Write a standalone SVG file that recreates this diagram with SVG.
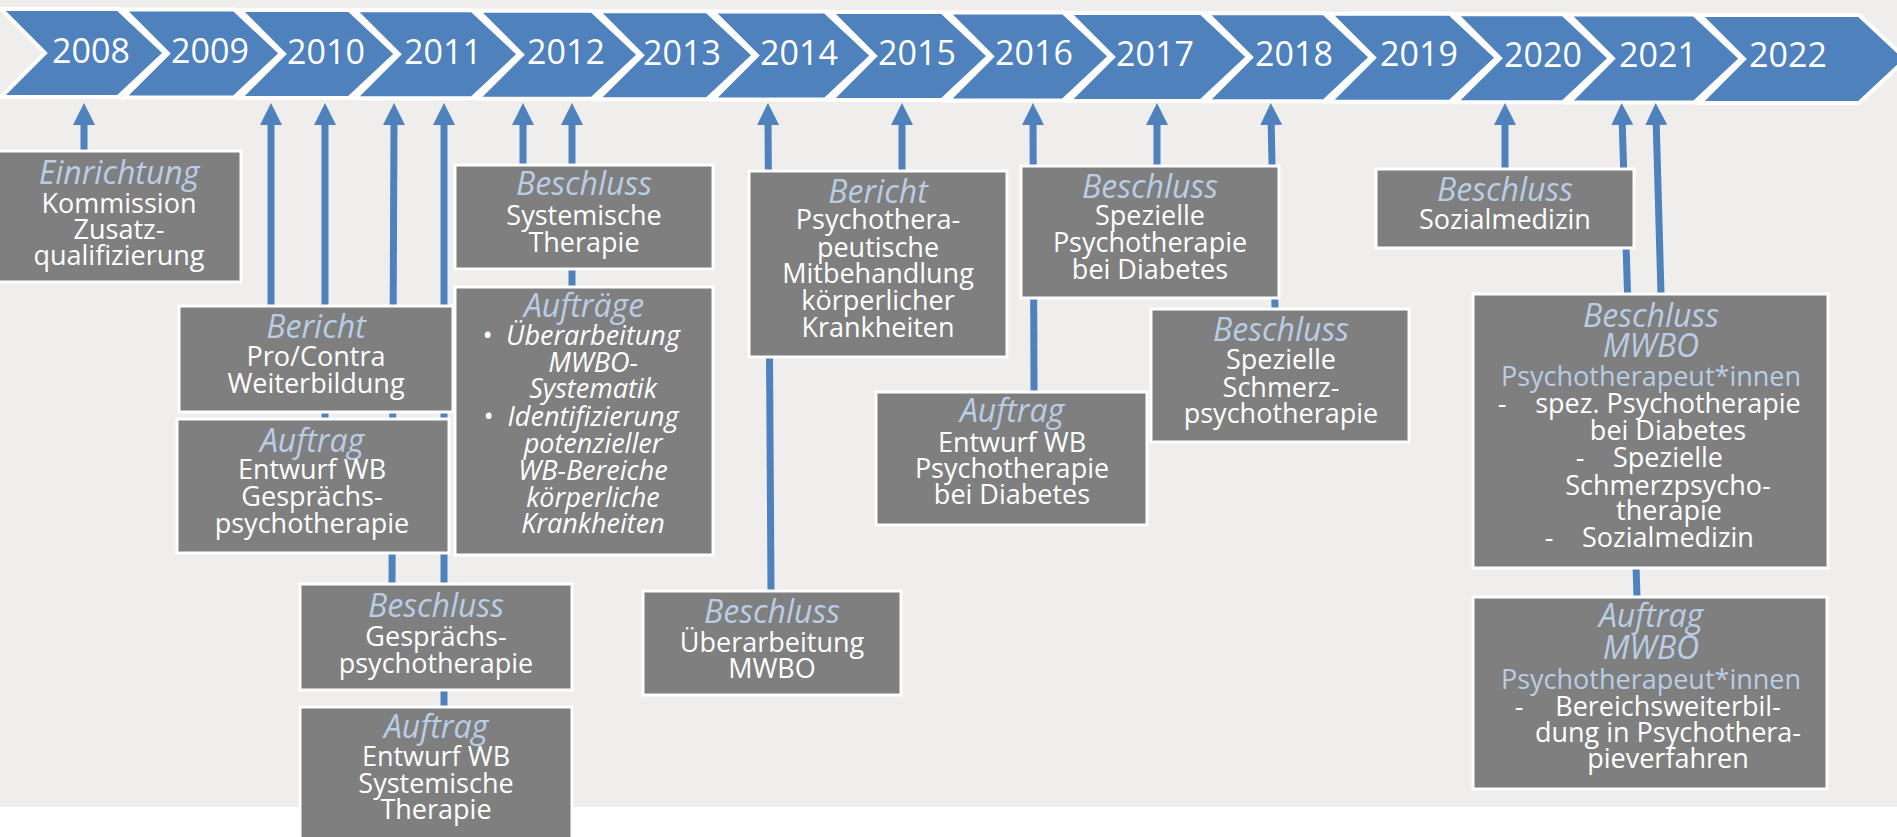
<svg xmlns="http://www.w3.org/2000/svg" width="1897" height="837" viewBox="0 0 1897 837">
<style>
text{font-family:'Open Sans','Noto Sans','DejaVu Sans',sans-serif;text-anchor:middle}
.yr{font-size:34px;fill:#fff}
.h{font-size:32px;font-style:italic;fill:#B9CDE5}
.b{font-size:27px;fill:#fff}
.bi{font-size:27px;font-style:italic;fill:#fff}
.p{font-size:27px;fill:#B9CDE5}
.box{fill:#7F7F7F;stroke:#fff;stroke-width:3}
.chev{fill:#4F81BD;stroke:#fff;stroke-width:4;stroke-linejoin:miter}
.con{stroke:#4F81BD;stroke-width:7;fill:none;marker-end:url(#ah)}
</style>
<defs>
<marker id="ah" markerUnits="userSpaceOnUse" markerWidth="22" markerHeight="22" viewBox="0 0 22 22" refX="9" refY="11" orient="auto">
<path d="M0,0 L22,11 L0,22 Z" fill="#4F81BD"/>
</marker>
</defs>
<rect x="0" y="0" width="1897" height="837" fill="#fff"/>
<rect x="0" y="0" width="1897" height="807" fill="#EFEEEC"/>

<g id="timeline">
<polygon class="chev" points="1,9 118,9 165,53 118,97 1,97 45,53"/>
<polygon class="chev" points="124,9.4 234,9.4 281,53.4 234,97.4 124,97.4 168,53.4"/>
<polygon class="chev" points="240,9.9 349,9.9 396,53.9 349,97.9 240,97.9 284,53.9"/>
<polygon class="chev" points="355,10.3 472,10.3 519,54.3 472,98.3 355,98.3 399,54.3"/>
<polygon class="chev" points="478,10.7 592,10.7 639,54.7 592,98.7 478,98.7 522,54.7"/>
<polygon class="chev" points="598,11.2 707,11.2 754,55.2 707,99.2 598,99.2 642,55.2"/>
<polygon class="chev" points="713,11.6 825,11.6 872,55.6 825,99.6 713,99.6 757,55.6"/>
<polygon class="chev" points="831,12 942,12 989,56 942,100 831,100 875,56"/>
<polygon class="chev" points="948,12.4 1063,12.4 1110,56.4 1063,100.4 948,100.4 992,56.4"/>
<polygon class="chev" points="1069,12.9 1201,12.9 1248,56.9 1201,100.9 1069,100.9 1113,56.9"/>
<polygon class="chev" points="1207,13.3 1324,13.3 1371,57.3 1324,101.3 1207,101.3 1251,57.3"/>
<polygon class="chev" points="1330,13.7 1450,13.7 1497,57.7 1450,101.7 1330,101.7 1374,57.7"/>
<polygon class="chev" points="1456,14.2 1563,14.2 1610,58.2 1563,102.2 1456,102.2 1500,58.2"/>
<polygon class="chev" points="1569,14.6 1694,14.6 1741,58.6 1694,102.6 1569,102.6 1613,58.6"/>
<polygon class="chev" points="1700,15 1859,15 1906,59 1859,103 1700,103 1744,59"/>
<text class="yr" x="91" y="63">2008</text>
<text class="yr" x="210" y="63.3">2009</text>
<text class="yr" x="326" y="63.6">2010</text>
<text class="yr" x="443" y="63.9">2011</text>
<text class="yr" x="566" y="64.2">2012</text>
<text class="yr" x="682" y="64.5">2013</text>
<text class="yr" x="799" y="64.8">2014</text>
<text class="yr" x="917" y="65.1">2015</text>
<text class="yr" x="1034" y="65.4">2016</text>
<text class="yr" x="1155" y="65.7">2017</text>
<text class="yr" x="1294" y="66">2018</text>
<text class="yr" x="1419" y="66.3">2019</text>
<text class="yr" x="1543" y="66.6">2020</text>
<text class="yr" x="1658" y="66.9">2021</text>
<text class="yr" x="1788" y="67.2">2022</text>
</g>

<g id="connectors">
<line class="con" x1="84" y1="151" x2="84" y2="116"/>
<line class="con" x1="271" y1="306" x2="271" y2="116"/>
<line class="con" x1="325" y1="419" x2="325" y2="116"/>
<line class="con" x1="392" y1="584" x2="394" y2="116"/>
<line class="con" x1="444" y1="707" x2="444" y2="116"/>
<line class="con" x1="523" y1="165" x2="523" y2="116"/>
<line class="con" x1="572" y1="287" x2="572" y2="116"/>
<line class="con" x1="771" y1="591" x2="768" y2="116"/>
<line class="con" x1="902" y1="171" x2="902" y2="116"/>
<line class="con" x1="1034" y1="392" x2="1033" y2="116"/>
<line class="con" x1="1157" y1="166" x2="1157" y2="116"/>
<line class="con" x1="1275" y1="309" x2="1271" y2="116"/>
<line class="con" x1="1505" y1="169" x2="1505" y2="116"/>
<line class="con" x1="1637" y1="597" x2="1622" y2="116"/>
<line class="con" x1="1661" y1="294" x2="1656" y2="116"/>
</g>

<g id="n-einrichtung">
<rect class="box" x="-3" y="151" width="244" height="131"/>
<text class="h" x="119" y="184">Einrichtung</text>
<text class="b" x="119" y="213">Kommission</text>
<text class="b" x="119" y="239">Zusatz-</text>
<text class="b" x="119" y="265">qualifizierung</text>
</g>

<g id="n-bericht-procontra">
<rect class="box" x="179" y="306" width="274" height="106"/>
<text class="h" x="316" y="338">Bericht</text>
<text class="b" x="316" y="366">Pro/Contra</text>
<text class="b" x="316" y="393">Weiterbildung</text>
</g>

<g id="n-auftrag-gespraech">
<rect class="box" x="177" y="419" width="272" height="134"/>
<text class="h" x="312" y="452">Auftrag</text>
<text class="b" x="312" y="479">Entwurf WB</text>
<text class="b" x="312" y="506">Gesprächs-</text>
<text class="b" x="312" y="533">psychotherapie</text>
</g>

<g id="n-beschluss-gespraech">
<rect class="box" x="300" y="584" width="272" height="106"/>
<text class="h" x="436" y="617">Beschluss</text>
<text class="b" x="436" y="646">Gesprächs-</text>
<text class="b" x="436" y="673">psychotherapie</text>
</g>

<g id="n-auftrag-systemisch">
<rect class="box" x="300" y="707" width="272" height="150"/>
<text class="h" x="436" y="738">Auftrag</text>
<text class="b" x="436" y="766">Entwurf WB</text>
<text class="b" x="436" y="793">Systemische</text>
<text class="b" x="436" y="819">Therapie</text>
</g>

<g id="n-beschluss-systemisch">
<rect class="box" x="455" y="165" width="258" height="104"/>
<text class="h" x="584" y="195">Beschluss</text>
<text class="b" x="584" y="225">Systemische</text>
<text class="b" x="584" y="252">Therapie</text>
</g>

<g id="n-auftraege">
<rect class="box" x="455" y="287" width="258" height="268"/>
<text class="h" x="584" y="317">Aufträge</text>
<text class="bi" x="487" y="345">•</text>
<text class="bi" x="593" y="345">Überarbeitung</text>
<text class="bi" x="593" y="372">MWBO-</text>
<text class="bi" x="593" y="398">Systematik</text>
<text class="bi" x="488" y="426">•</text>
<text class="bi" x="593" y="426">Identifizierung</text>
<text class="bi" x="593" y="453">potenzieller</text>
<text class="bi" x="593" y="480">WB-Bereiche</text>
<text class="bi" x="593" y="507">körperliche</text>
<text class="bi" x="593" y="533">Krankheiten</text>
</g>

<g id="n-bericht-mitbehandlung">
<rect class="box" x="749" y="171" width="258" height="186"/>
<text class="h" x="878" y="203">Bericht</text>
<text class="b" x="878" y="229">Psychothera-</text>
<text class="b" x="878" y="257">peutische</text>
<text class="b" x="878" y="283">Mitbehandlung</text>
<text class="b" x="878" y="310">körperlicher</text>
<text class="b" x="878" y="337">Krankheiten</text>
</g>

<g id="n-beschluss-mwbo-2014">
<rect class="box" x="643" y="591" width="258" height="104"/>
<text class="h" x="772" y="623">Beschluss</text>
<text class="b" x="772" y="652">Überarbeitung</text>
<text class="b" x="772" y="678">MWBO</text>
</g>

<g id="n-beschluss-diabetes">
<rect class="box" x="1021" y="166" width="258" height="132"/>
<text class="h" x="1150" y="198">Beschluss</text>
<text class="b" x="1150" y="225">Spezielle</text>
<text class="b" x="1150" y="252">Psychotherapie</text>
<text class="b" x="1150" y="279">bei Diabetes</text>
</g>

<g id="n-auftrag-diabetes">
<rect class="box" x="876" y="392" width="271" height="133"/>
<text class="h" x="1012" y="422">Auftrag</text>
<text class="b" x="1012" y="452">Entwurf WB</text>
<text class="b" x="1012" y="478">Psychotherapie</text>
<text class="b" x="1012" y="504">bei Diabetes</text>
</g>

<g id="n-beschluss-schmerz">
<rect class="box" x="1151" y="309" width="258" height="133"/>
<text class="h" x="1281" y="341">Beschluss</text>
<text class="b" x="1281" y="369">Spezielle</text>
<text class="b" x="1281" y="397">Schmerz-</text>
<text class="b" x="1281" y="423">psychotherapie</text>
</g>

<g id="n-beschluss-sozial">
<rect class="box" x="1376" y="169" width="258" height="79"/>
<text class="h" x="1505" y="201">Beschluss</text>
<text class="b" x="1505" y="229">Sozialmedizin</text>
</g>

<g id="n-beschluss-mwbo-2021">
<rect class="box" x="1473" y="294" width="355" height="274"/>
<text class="h" x="1651" y="327">Beschluss</text>
<text class="h" x="1651" y="357">MWBO</text>
<text class="p" x="1651" y="386">Psychotherapeut*innen</text>
<text class="b" x="1502" y="413">-</text>
<text class="b" x="1668" y="413">spez. Psychotherapie</text>
<text class="b" x="1668" y="440">bei Diabetes</text>
<text class="b" x="1580" y="467">-</text>
<text class="b" x="1668" y="467">Spezielle</text>
<text class="b" x="1668" y="495">Schmerzpsycho-</text>
<text class="b" x="1669" y="520">therapie</text>
<text class="b" x="1549" y="547">-</text>
<text class="b" x="1668" y="547">Sozialmedizin</text>
</g>

<g id="n-auftrag-mwbo-2021">
<rect class="box" x="1473" y="597" width="354" height="192"/>
<text class="h" x="1651" y="627">Auftrag</text>
<text class="h" x="1651" y="659">MWBO</text>
<text class="p" x="1651" y="689">Psychotherapeut*innen</text>
<text class="b" x="1519" y="716">-</text>
<text class="b" x="1668" y="716">Bereichsweiterbil-</text>
<text class="b" x="1668" y="742">dung in Psychothera-</text>
<text class="b" x="1668" y="768">pieverfahren</text>
</g>
</svg>
